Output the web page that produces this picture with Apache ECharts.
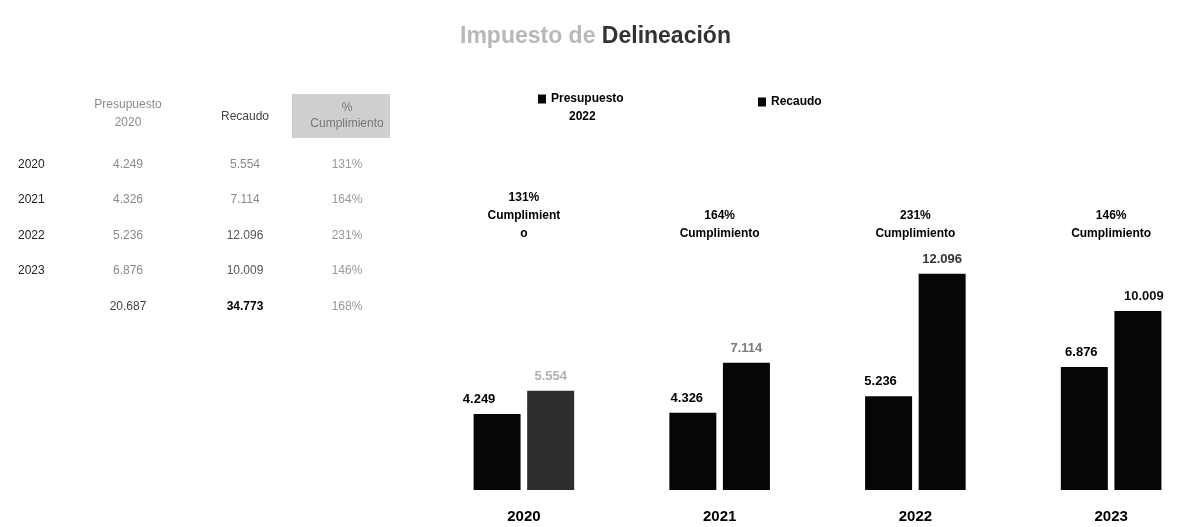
<!DOCTYPE html>
<html><head><meta charset="utf-8">
<script src="https://cdn.jsdelivr.net/npm/echarts@6/dist/echarts.min.js"></script>
<style>html,body{margin:0;padding:0;background:#fff;overflow:hidden}#c{width:1230px;height:527px}</style>
</head><body><div id="c"></div>
<script>
// ---- data ----
const years = ['2020', '2021', '2022', '2023'];
const presupuesto = [4.249, 4.326, 5.236, 6.876];
const recaudo = [5.554, 7.114, 12.096, 10.009];
const cumplimiento = ['131%', '164%', '231%', '146%'];
const totalPresupuesto = 20.687;
const totalRecaudo = 34.773;
const totalCumplimiento = '168%';
const tableHeaders = ['Presupuesto\n2020', 'Recaudo', '%\nCumplimiento'];
const cumplimientoWord = 'Cumplimiento';
const titleParts = ['Impuesto de ', 'Delineación'];
const seriesNames = ['Presupuesto 2022', 'Recaudo'];

// ---- styling (not data) ----
const FONT = '"Liberation Sans Narrow","Liberation Sans",Arial,sans-serif';
const fmt = v => v.toFixed(3);
const recLabelColors = ['#b0b0b0', '#7a7a7a', '#333', '#111'];
const recBarColors = ['#2e2e2e', '#060606', '#060606', '#060606'];
const presLabelDx = [-18, -6, -8, -3];
const recLabelDx = [0, 0, 0, 6];

// ---- table (graphic) ----
const colX = [128, 245, 347];
const rowY = [165, 200, 236, 271];
const totalY = 307;
const g = [];
function txt(x, y, text, opt) {
  g.push({type: 'text', x: x, y: y, z: 10, style: Object.assign({
    text: text, fill: '#8a8a8a', font: '12px ' + FONT, textAlign: 'center', textVerticalAlign: 'middle'
  }, opt || {})});
}
// header
g.push({type: 'rect', shape: {x: 292, y: 94, width: 98, height: 44}, style: {fill: '#cfcfcf'}});
txt(colX[0], 114, tableHeaders[0], {fill: '#8a8a8a', lineHeight: 18});
txt(colX[1], 117, tableHeaders[1], {fill: '#444'});
txt(colX[2], 116, tableHeaders[2], {fill: '#777', lineHeight: 16});
years.forEach((y, i) => {
  txt(18, rowY[i], y, {fill: '#222', textAlign: 'left'});
  txt(colX[0], rowY[i], fmt(presupuesto[i]), {fill: '#8a8a8a'});
  txt(colX[1], rowY[i], fmt(recaudo[i]), {fill: i >= 2 ? '#555' : '#8a8a8a'});
  txt(colX[2], rowY[i], cumplimiento[i], {fill: '#999'});
});
txt(colX[0], totalY, fmt(totalPresupuesto), {fill: '#444'});
txt(colX[1], totalY, fmt(totalRecaudo), {fill: '#000', font: 'bold 12px ' + FONT});
txt(colX[2], totalY, totalCumplimiento, {fill: '#999'});

const chart = echarts.init(document.getElementById('c'));
chart.setOption({
  backgroundColor: '#fff',
  animation: false,
  title: {
    text: '{a|' + titleParts[0] + '}{b|' + titleParts[1] + '}',
    left: 455, top: 20,
    textStyle: {rich: {
      a: {fontSize: 23, color: '#b8b8b8', fontFamily: FONT},
      b: {fontSize: 23, color: '#333', fontFamily: FONT}
    }}
  },
  legend: [{
    data: [seriesNames[0]], left: 533, top: 88, itemWidth: 8, itemHeight: 27,
    icon: 'path://M0,0L8,0L8,9L0,9Z M0,27L0.01,27',
    formatter: () => '{a|Presupuesto}\n{b|2022}',
    textStyle: {rich: {
      a: {fontSize: 12, fontWeight: 'bold', color: '#000', fontFamily: FONT, lineHeight: 18},
      b: {fontSize: 12, fontWeight: 'bold', color: '#000', fontFamily: FONT, lineHeight: 18, padding: [0, 0, 0, 18]}
    }}
  }, {
    data: [seriesNames[1]], left: 753, top: 88, itemWidth: 8, itemHeight: 9, icon: 'rect',
    textStyle: {fontSize: 12, fontWeight: 'bold', color: '#000', fontFamily: FONT, lineHeight: 18}
  }],
  grid: {left: 426, width: 783, top: 245, bottom: 37},
  xAxis: [{
    type: 'category', data: years, position: 'bottom',
    axisLine: {show: false}, axisTick: {show: false},
    axisLabel: {margin: 19, fontSize: 15, fontWeight: 'bold', color: '#000', fontFamily: FONT}
  }, {
    type: 'category', data: years, position: 'top',
    axisLine: {show: false}, axisTick: {show: false},
    axisLabel: {
      margin: 2, fontSize: 12, fontWeight: 'bold', color: '#000', fontFamily: FONT, lineHeight: 18,
      formatter: (v, i) => i === 0
        ? cumplimiento[i] + '\n' + cumplimientoWord.slice(0, -1) + '\n' + cumplimientoWord.slice(-1)
        : cumplimiento[i] + '\n' + cumplimientoWord
    }
  }],
  yAxis: {type: 'value', min: 0, max: 13.7, show: false, splitLine: {show: false}},
  graphic: g,
  series: [{
    name: seriesNames[0], type: 'bar', barWidth: 47, barGap: '14%',
    itemStyle: {color: '#060606'},
    data: presupuesto.map((v, i) => ({value: v, label: {offset: [presLabelDx[i], 0]}})),
    label: {show: true, position: 'top', distance: 8, formatter: p => fmt(p.value),
      fontSize: 13, fontWeight: 'bold', color: '#000', fontFamily: FONT}
  }, {
    name: seriesNames[1], type: 'bar', barWidth: 47,
    itemStyle: {color: '#060606'},
    data: recaudo.map((v, i) => ({value: v, itemStyle: {color: recBarColors[i]},
      label: {color: recLabelColors[i], offset: [recLabelDx[i], 0]}})),
    label: {show: true, position: 'top', distance: 8, formatter: p => fmt(p.value),
      fontSize: 13, fontWeight: 'bold', fontFamily: FONT}
  }]
});
</script>
</body></html>
